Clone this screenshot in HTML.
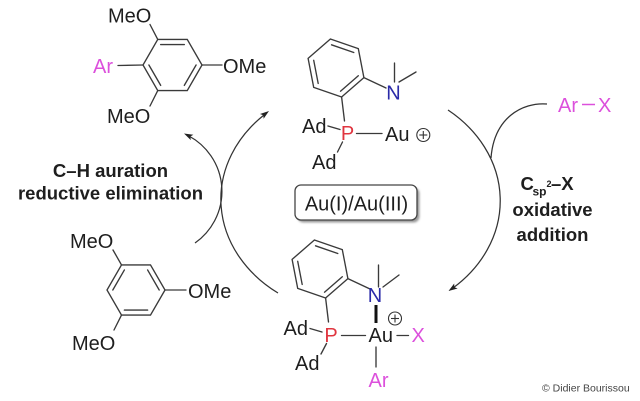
<!DOCTYPE html>
<html><head><meta charset="utf-8"><style>html,body{margin:0;padding:0;background:#fff;}svg{display:block}</style></head>
<body>
<svg width="640" height="401" viewBox="0 0 640 401" xmlns="http://www.w3.org/2000/svg">
<defs>
<filter id="sh" x="-10%" y="-20%" width="130%" height="160%"><feGaussianBlur stdDeviation="1"/></filter>
</defs>
<rect width="640" height="401" fill="#fff"/>

<!-- cycle arcs -->
<g stroke="#333" stroke-width="1.25" fill="none">
<path d="M278,293 A138.5,116 0 0 1 264,115"/>
<path d="M448,110 A138.5,116 0 0 1 453,288"/>
<path d="M195,243 A63,63 0 0 0 189,136"/>
<path d="M547,104 C522,102 494,118 491,158"/>
</g>
<g fill="#222">
<polygon points="269,111 263.6,118.8 263.4,115.2 260,114"/>
<polygon points="448.5,291 457.6,288.5 454.3,287.1 454.2,283.5"/>
<polygon points="184,133.5 193.4,134.7 190.3,136.5 190.8,140.1"/>
</g>

<!-- box -->
<rect x="297.5" y="187.5" width="122" height="35" rx="6" fill="#999" filter="url(#sh)"/>
<rect x="295" y="185" width="122" height="35" rx="6" fill="#fff" stroke="#444" stroke-width="1.3"/>

<!-- bonds -->
<g stroke="#3a3a3a" stroke-width="1.35" stroke-linecap="round" fill="none">
<!-- top-left ring -->
<polygon points="202,65 187.25,90.55 157.75,90.55 143,65 157.75,39.45 187.25,39.45"/>
<line x1="160.7" y1="44.6" x2="184.3" y2="44.6"/>
<line x1="196.1" y1="65" x2="184.3" y2="85.4"/>
<line x1="160.7" y1="85.4" x2="148.9" y2="65"/>
<line x1="118" y1="65.5" x2="143" y2="65"/>
<line x1="202" y1="65" x2="222" y2="65"/>
<line x1="150" y1="24.5" x2="157.75" y2="39.45"/>
<line x1="157.75" y1="90.55" x2="150" y2="106"/>

<!-- bottom-left ring -->
<polygon points="165,290 150.5,315.1 121.5,315.1 107,290 121.5,264.9 150.5,264.9"/>
<line x1="147.6" y1="269.9" x2="159.2" y2="290"/>
<line x1="147.6" y1="310.1" x2="124.4" y2="310.1"/>
<line x1="112.8" y1="290" x2="124.4" y2="269.9"/>
<line x1="113" y1="250" x2="121.5" y2="264.9"/>
<line x1="165" y1="290" x2="186" y2="290"/>
<line x1="121.5" y1="315.1" x2="114" y2="330"/>

<!-- top-middle ring -->
<polygon points="363.9,77.6 341.6,97 313.7,87.4 308.1,58.4 330.4,39 358.3,48.6"/>
<line x1="331.5" y1="44.8" x2="353.8" y2="52.5"/>
<line x1="358.3" y1="75.7" x2="340.5" y2="91.2"/>
<line x1="318.2" y1="83.5" x2="313.7" y2="60.3"/>
<line x1="363.9" y1="77.6" x2="386" y2="88"/>
<line x1="341.6" y1="97" x2="344.5" y2="121"/>
<line x1="394.5" y1="82" x2="394.5" y2="63"/>
<line x1="399" y1="82" x2="416" y2="72"/>
<line x1="328" y1="126" x2="340" y2="129.5"/>
<line x1="342.5" y1="142" x2="337.5" y2="152"/>
<line x1="356.5" y1="133.5" x2="382" y2="133.5"/>

<!-- bottom-middle ring -->
<polygon points="347.9,278.6 325.6,298 297.7,288.4 292.1,259.4 314.4,240 342.3,249.6"/>
<line x1="315.5" y1="245.8" x2="337.8" y2="253.5"/>
<line x1="342.3" y1="276.7" x2="324.5" y2="292.2"/>
<line x1="302.2" y1="284.5" x2="297.7" y2="261.3"/>
<line x1="347.9" y1="278.6" x2="370" y2="289"/>
<line x1="325.6" y1="298" x2="328.5" y2="322"/>
<line x1="378.5" y1="287" x2="378.5" y2="265"/>
<line x1="383" y1="287" x2="399" y2="275"/>
<line x1="310" y1="328.5" x2="322" y2="332"/>
<line x1="326.5" y1="343.5" x2="321" y2="354"/>
<line x1="341.5" y1="335.5" x2="365.5" y2="335.5"/>
<line x1="397" y1="335.5" x2="408.5" y2="335.5"/>
<line x1="376" y1="347" x2="376" y2="367"/>
</g>
<line x1="376" y1="305" x2="376" y2="323" stroke="#111" stroke-width="3"/>
<line x1="582" y1="104.5" x2="595" y2="104.5" stroke="#dc50dc" stroke-width="1.5"/>

<!-- charges -->
<g stroke="#333" stroke-width="1.1" fill="none">
<circle cx="423.3" cy="135" r="6.5"/>
<line x1="419.3" y1="135" x2="427.3" y2="135"/>
<line x1="423.3" y1="131" x2="423.3" y2="139"/>
<circle cx="395" cy="318.5" r="6.5"/>
<line x1="391" y1="318.5" x2="399" y2="318.5"/>
<line x1="395" y1="314.5" x2="395" y2="322.5"/>
</g>

<!-- atom labels -->
<g font-family="'Liberation Sans', Arial, Helvetica, sans-serif" font-size="20" fill="#1e1e1e">
<text x="108" y="22.5">MeO</text>
<text x="93" y="73" fill="#dc50dc">Ar</text>
<text x="223" y="73">OMe</text>
<text x="107" y="123">MeO</text>

<text x="70" y="248">MeO</text>
<text x="188" y="298">OMe</text>
<text x="72" y="350">MeO</text>

<text x="393.5" y="99.5" text-anchor="middle" fill="#2a2aa8">N</text>
<text x="347.5" y="140" text-anchor="middle" fill="#e0353f">P</text>
<text x="302" y="133">Ad</text>
<text x="312" y="169">Ad</text>
<text x="385" y="141">Au</text>

<text x="375" y="302" text-anchor="middle" fill="#2a2aa8">N</text>
<text x="331" y="342" text-anchor="middle" fill="#e0353f">P</text>
<text x="283.5" y="335">Ad</text>
<text x="295" y="370">Ad</text>
<text x="368.5" y="342">Au</text>
<text x="411.5" y="342" fill="#dc50dc">X</text>
<text x="368.5" y="387" fill="#dc50dc">Ar</text>

<text x="558" y="112" fill="#dc50dc">Ar</text>
<text x="598" y="112" fill="#dc50dc">X</text>

<text x="356.5" y="210.5" text-anchor="middle">Au(I)/Au(III)</text>
</g>

<!-- step labels -->
<g font-family="'Liberation Sans', Arial, Helvetica, sans-serif" font-size="18.5" font-weight="bold" fill="#1e1e1e">
<text x="110.5" y="177" text-anchor="middle">C–H auration</text>
<text x="110.5" y="199.5" text-anchor="middle">reductive elimination</text>
<text x="520.5" y="190">C</text>
<text x="532.5" y="195.5" font-size="12">sp</text>
<text x="546.5" y="187" font-size="9">2</text>
<text x="551" y="190">–X</text>
<text x="552.5" y="216" text-anchor="middle">oxidative</text>
<text x="552.5" y="241" text-anchor="middle">addition</text>
</g>

<text x="542" y="391.5" font-family="'Liberation Sans', Arial, Helvetica, sans-serif" font-size="10.5" fill="#444">© Didier Bourissou</text>
</svg>
</body></html>
